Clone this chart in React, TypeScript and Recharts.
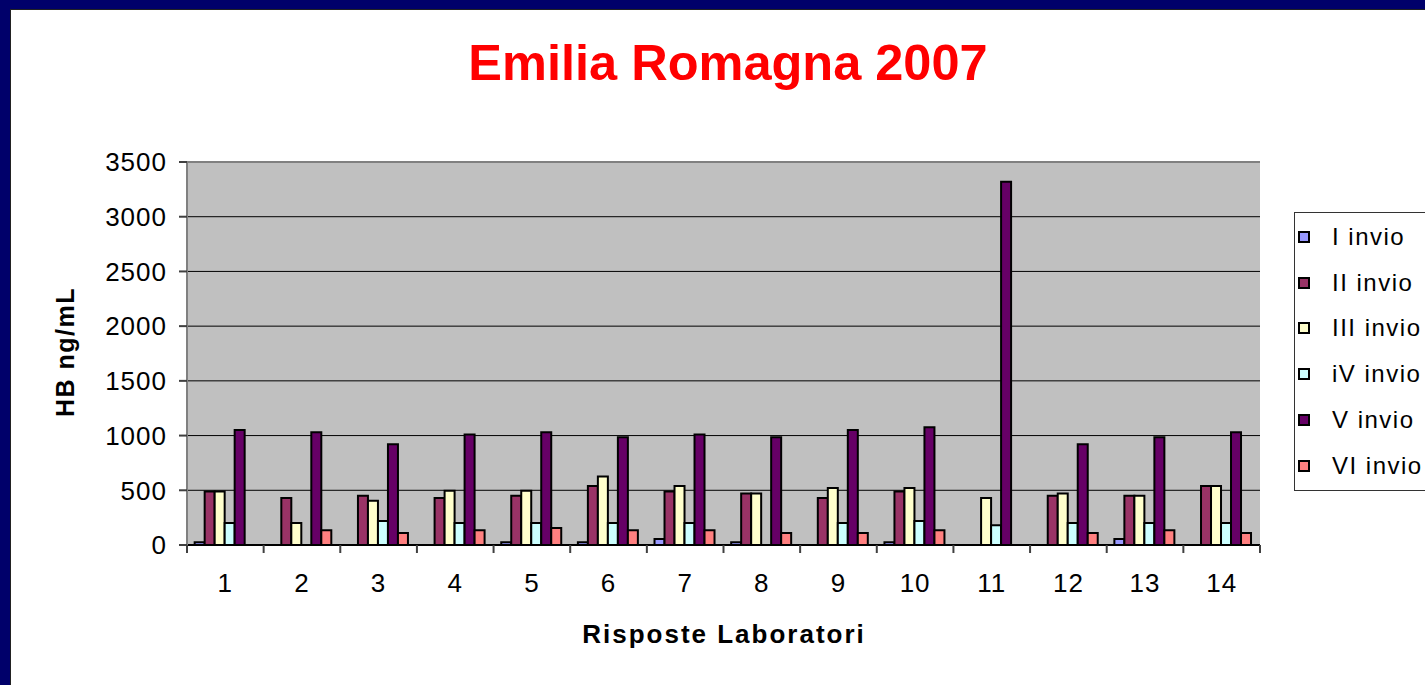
import { BarChart, Bar, XAxis, YAxis, CartesianGrid, Legend, ReferenceLine } from 'recharts';

// Emilia Romagna 2007 - HB ng/mL per laboratorio, sei invii

const labs = ['1', '2', '3', '4', '5', '6', '7', '8', '9', '10', '11', '12', '13', '14'];
const invio1 = [25, null, null, null, 25, 25, 55, 25, null, 25, null, null, 55, null];
const invio2 = [490, 430, 450, 430, 450, 540, 490, 470, 430, 490, null, 450, 450, 540];
const invio3 = [490, 200, 405, 495, 495, 625, 540, 470, 520, 520, 430, 470, 450, 540];
const invio4 = [200, null, 220, 200, 200, 200, 200, null, 200, 220, 180, 200, 200, 200];
const invio5 = [1050, 1030, 920, 1010, 1030, 985, 1010, 985, 1050, 1075, 3320, 920, 985, 1030];
const invio6 = [null, 135, 110, 135, 155, 135, 135, 110, 110, 135, null, 110, 135, 110];
const yTicks = [0, 500, 1000, 1500, 2000, 2500, 3000, 3500];

const series = [
    { key: 'i1', name: 'I invio', color: '#9999FF', values: invio1 },
    { key: 'i2', name: 'II invio', color: '#993366', values: invio2 },
    { key: 'i3', name: 'III invio', color: '#FFFFCC', values: invio3 },
    { key: 'i4', name: 'iV invio', color: '#CCFFFF', values: invio4 },
    { key: 'i5', name: 'V invio', color: '#660066', values: invio5 },
    { key: 'i6', name: 'VI invio', color: '#FF8080', values: invio6 },
];

const data = labs.map((lab, i) => {
    const row: any = { lab };
    series.forEach(s => { row[s.key] = s.values[i]; });
    return row;
});

const FONT = '"Liberation Sans", Arial, sans-serif';

// excel style: tick marks between categories, label in the middle
const XTick = (props: any) => {
    const { x, y, payload, index, visibleTicksCount, width } = props;
    const half = width && visibleTicksCount ? width / visibleTicksCount / 2 : 38.3;
    return (
        <g>
            <line x1={x - half} x2={x - half} y1={y} y2={y + 8} stroke="#404040" strokeWidth={2} />
            {index === visibleTicksCount - 1 && (
                <line x1={x + half} x2={x + half} y1={y} y2={y + 8} stroke="#404040" strokeWidth={2} />
            )}
            <text x={x} y={y + 47} textAnchor="middle" fontSize={26} fill="#000" fontFamily={FONT} letterSpacing={1}>
                {payload.value}
            </text>
        </g>
    );
};

// keep the legend in series order (recharts sorts by name otherwise)
const renderLegend = (props: any) => {
    const items = [...(props.payload || [])].sort(
        (a: any, b: any) => series.findIndex(s => s.name === a.value) - series.findIndex(s => s.name === b.value)
    );
    return (
        <div style={{ border: '1px solid #333', background: '#fff', width: 140, padding: '1px 0 1px 3px', fontFamily: FONT, boxSizing: 'border-box' }}>
            {items.map((p: any) => (
                <div key={p.value} style={{ display: 'flex', alignItems: 'center', height: 45.8 }}>
                    <span style={{ width: 8, height: 8, border: '2px solid #000', background: p.color, marginRight: 22, flex: 'none' }} />
                    <span style={{ fontSize: 24, letterSpacing: 1.5, color: '#000', whiteSpace: 'nowrap' }}>{p.value}</span>
                </div>
            ))}
        </div>
    );
};

export default function App() {
    return (
        <div style={{ position: 'absolute', left: 0, top: 0, width: 1425, height: 685, background: '#00006A', overflow: 'hidden' }}>
            <div style={{ position: 'absolute', left: 10, top: 9, right: 0, bottom: 0, background: '#fff', borderTop: '1px solid #222', borderLeft: '1px solid #222' }} />

            <div style={{ position: 'absolute', left: 728, top: 38, transform: 'translateX(-50%)', color: '#FF0000', fontFamily: FONT, fontWeight: 'bold', fontSize: 50.5, lineHeight: '50px', whiteSpace: 'nowrap' }}>
                Emilia Romagna 2007
            </div>

            <div style={{ position: 'absolute', left: 65, top: 352, transform: 'translate(-50%, -50%) rotate(-90deg)', fontFamily: FONT, fontWeight: 'bold', fontSize: 25, letterSpacing: 1.5, whiteSpace: 'nowrap', color: '#000' }}>
                HB ng/mL
            </div>

            <div style={{ position: 'absolute', left: 724, top: 621, transform: 'translateX(-50%)', fontFamily: FONT, fontWeight: 'bold', fontSize: 26, lineHeight: '26px', letterSpacing: 2, whiteSpace: 'nowrap', color: '#000' }}>
                Risposte Laboratori
            </div>

            <div style={{ position: 'absolute', left: 0, top: 0 }}>
                <BarChart
                    width={1425}
                    height={685}
                    data={data}
                    margin={{ top: 162, right: 165, bottom: 90, left: 0 }}
                    barGap={0}
                    barCategoryGap="10%"
                >
                    <CartesianGrid vertical={false} stroke="#000" fill="#C0C0C0" fillOpacity={1} />
                    <XAxis
                        dataKey="lab"
                        height={50}
                        tickSize={0}
                        tickMargin={0}
                        tickLine={false}
                        axisLine={{ stroke: '#000', strokeWidth: 2 }}
                        tick={<XTick />}
                        interval={0}
                    />
                    <YAxis
                        width={187}
                        domain={[0, 3500]}
                        ticks={yTicks}
                        interval={0}
                        tickSize={8}
                        tickMargin={12}
                        tickLine={{ stroke: '#404040', strokeWidth: 2 }}
                        axisLine={{ stroke: '#808080', strokeWidth: 2 }}
                        tick={{ fontSize: 26, fill: '#000', fontFamily: FONT, letterSpacing: 1 }}
                    />
                    <YAxis
                        yAxisId="right"
                        orientation="right"
                        width={0}
                        domain={[0, 3500]}
                        tick={false}
                        tickLine={false}
                        axisLine={{ stroke: '#808080', strokeWidth: 2 }}
                    />
                    <ReferenceLine y={3500} stroke="#808080" strokeWidth={2} />
                    <Legend
                        layout="horizontal"
                        verticalAlign="middle"
                        align="center"
                        content={renderLegend}
                        wrapperStyle={{ left: 1294, top: 212, width: 140 }}
                    />
                    {series.map(s => (
                        <Bar
                            key={s.key}
                            dataKey={s.key}
                            name={s.name}
                            fill={s.color}
                            stroke="#000"
                            strokeWidth={2}
                            isAnimationActive={false}
                        />
                    ))}
                </BarChart>
            </div>
        </div>
    );
}
